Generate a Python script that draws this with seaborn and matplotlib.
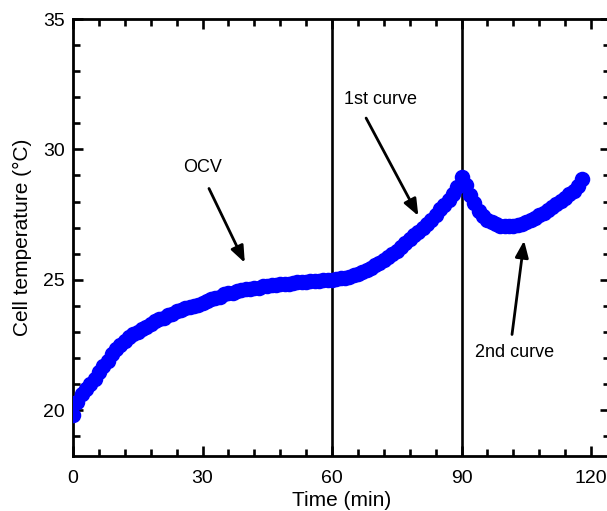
import matplotlib
matplotlib.use("Agg")
import matplotlib.pyplot as plt
import seaborn as sns
import pandas as pd
from matplotlib.ticker import MultipleLocator

# time in minutes, one reading per minute
time_min = list(range(0, 119))

# cell temperature (deg C)
temp_c = [
    19.8, 20.3, 20.6, 20.8, 21.0, 21.2, 21.45, 21.7, 21.9, 22.15,
    22.35, 22.5, 22.65, 22.8, 22.9, 23.0, 23.1, 23.2, 23.3, 23.4,
    23.5, 23.55, 23.65, 23.7, 23.8, 23.85, 23.9, 23.95, 24.0, 24.05,
    24.1, 24.2, 24.25, 24.3, 24.35, 24.45, 24.5, 24.5, 24.55, 24.6,
    24.65, 24.65, 24.7, 24.7, 24.75, 24.75, 24.8, 24.8, 24.82, 24.85,
    24.85, 24.88, 24.9, 24.9, 24.92, 24.95, 24.95, 24.97, 24.98, 25.0,
    25.0, 25.02, 25.05, 25.08, 25.12, 25.17, 25.22, 25.3, 25.38, 25.45,
    25.55, 25.65, 25.75, 25.88, 26.0, 26.12, 26.25, 26.4, 26.55, 26.7,
    26.85, 27.0, 27.15, 27.3, 27.5, 27.7, 27.85, 28.05, 28.3, 28.55,
    28.95, 28.65, 28.25, 27.95, 27.65, 27.45, 27.3, 27.2, 27.12, 27.08,
    27.05, 27.05, 27.07, 27.1, 27.15, 27.22, 27.3, 27.38, 27.47, 27.57,
    27.67, 27.78, 27.9, 28.02, 28.15, 28.28, 28.42, 28.6, 28.85,
]

# vertical markers (min)
vlines_at = [60, 90]

# annotations: text, text position, arrow tail, arrow head
notes = ["OCV", "1st curve", "2nd curve"]
note_xy = [(30.1, 29.3), (71.3, 31.9), (102.4, 22.2)]
tail_xy = [(31.5, 28.5), (67.9, 31.2), (101.7, 22.9)]
head_xy = [(39.8, 25.65), (80.0, 27.45), (104.5, 26.5)]

df = pd.DataFrame({"time": time_min, "temp": temp_c})

sns.set_style("ticks")
plt.rcParams["font.family"] = ["Liberation Sans", "DejaVu Sans"]

fig = plt.figure(figsize=(6.07, 5.11), dpi=100)
ax = fig.add_axes([73 / 607, 55 / 511, (610 - 73) / 607, (456 - 19) / 511])

for x in vlines_at:
    ax.axvline(x, color="black", lw=1.9, zorder=1)

sns.scatterplot(data=df, x="time", y="temp", ax=ax, color="#0000ff",
                s=125, linewidth=0, zorder=3, legend=False)

for txt, p, t, h in zip(notes, note_xy, tail_xy, head_xy):
    ax.text(p[0], p[1], txt, fontsize=13, ha="center", va="center", color="black")
    ax.annotate("", xy=h, xytext=t,
                arrowprops=dict(arrowstyle="-|>,head_length=1.0,head_width=0.4",
                                color="black", lw=2.0, shrinkA=0, shrinkB=0))

ax.set_xlim(0, 124.4)
ax.set_ylim(18.24, 35)
ax.xaxis.set_major_locator(MultipleLocator(30))
ax.xaxis.set_minor_locator(MultipleLocator(6))
ax.yaxis.set_major_locator(MultipleLocator(5))
ax.yaxis.set_minor_locator(MultipleLocator(1))

ax.tick_params(which="both", direction="in", top=True, right=True,
               width=1.9, color="black", labelcolor="black")
ax.tick_params(which="major", length=7, labelsize=14)
ax.tick_params(which="minor", length=5)
ax.tick_params(axis="x", which="major", pad=10)
ax.tick_params(axis="y", which="major", pad=6)

for sp in ax.spines.values():
    sp.set_linewidth(2.0)
    sp.set_color("black")

ax.set_xlabel("Time (min)", fontsize=15, labelpad=3, color="black")
ax.set_ylabel("Cell temperature (°C)", fontsize=15, labelpad=8, color="black")

fig.savefig("out.png", dpi=100)
